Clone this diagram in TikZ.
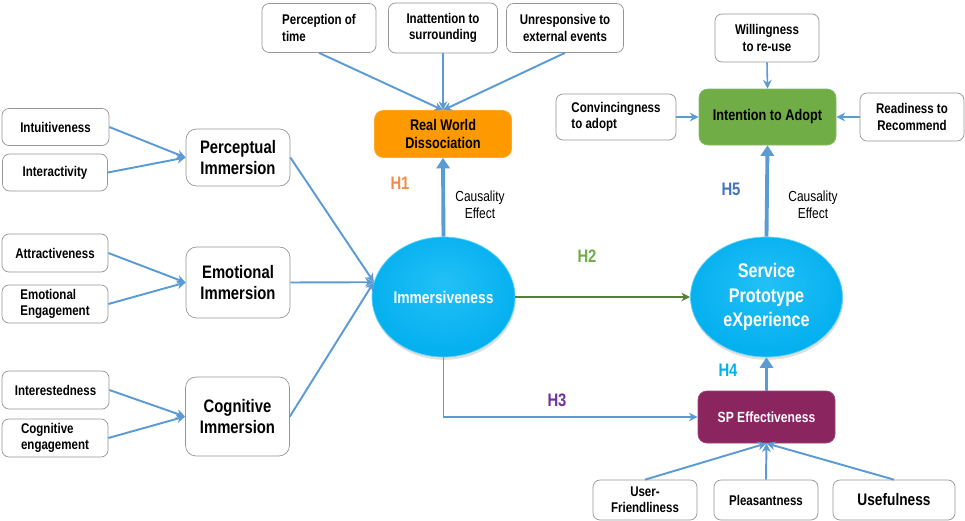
\documentclass[tikz,border=0pt]{standalone}
\usepackage{fontspec}
\setmainfont{Liberation Sans}[FakeStretch=0.82]
\usetikzlibrary{arrows.meta,shapes.geometric,shadows}

\definecolor{boxgray}{RGB}{150,150,150}
\definecolor{arrowblue}{RGB}{91,155,213}
\definecolor{rwdorange}{RGB}{255,153,0}
\definecolor{adoptgreen}{RGB}{112,173,71}
\definecolor{speffpurple}{RGB}{139,37,96}
\definecolor{h2arrow}{RGB}{84,130,53}
\definecolor{h1col}{RGB}{240,140,70}
\definecolor{h2col}{RGB}{112,173,71}
\definecolor{h3col}{RGB}{112,48,160}
\definecolor{h4col}{RGB}{0,176,240}
\definecolor{h5col}{RGB}{68,114,196}
\definecolor{ballin}{RGB}{35,192,246}
\definecolor{ballmid}{RGB}{0,174,238}
\definecolor{ballout}{RGB}{0,128,192}
\pgfdeclareradialshading{cyanball}{\pgfpoint{0bp}{6bp}}{color(0bp)=(ballin); color(30bp)=(ballmid); color(42bp)=(ballmid); color(50bp)=(ballout)}

\begin{document}
\begin{tikzpicture}[font=\bfseries\fontsize{8}{9.2}\selectfont,
  leaf/.style={draw=boxgray,rounded corners=4pt,fill=white,minimum width=#1,minimum height=0.76cm,inner sep=2pt,align=center},
  dim box/.style={draw=boxgray,rounded corners=6pt,fill=white,minimum width=2.08cm,align=center,font=\bfseries\fontsize{10.3}{11.5}\selectfont},
  core box/.style={draw=#1!85!white,fill=#1,rounded corners=5pt,minimum width=2.74cm,align=center,font=\bfseries\fontsize{8.8}{10.2}\selectfont},
  blob/.style={ellipse,draw=ballin!70!white,line width=0.4pt,shade,shading=cyanball,inner sep=0pt,text=white,align=center,
    drop shadow={opacity=0.25,shadow xshift=0.4pt,shadow yshift=-1.6pt}},
  link/.style={draw=arrowblue,line width=1.1pt,-{Stealth[length=5pt,width=5pt]}},
  strong link/.style={draw=arrowblue,line width=2.2pt,-{Triangle[length=6pt,width=7.5pt]}},
  hyp/.style={font=\bfseries\fontsize{10.3}{12}\selectfont},
  note/.style={font=\mdseries\fontsize{8.3}{9.8}\selectfont,align=center}]

\useasboundingbox (0,0) rectangle (19.3,-10.42);

% Real world dissociation
\node[leaf=2.28cm,minimum height=0.98cm,align=left] (ptime) at (6.38,-0.56) {Perception of\\time};
\node[leaf=2.18cm,minimum height=1cm] (inatt) at (8.86,-0.56) {Inattention to\\surrounding};
\node[leaf=2.34cm,minimum height=0.98cm] (unresp) at (11.30,-0.56) {Unresponsive to\\external events};
\node[core box=rwdorange,minimum height=0.94cm] (rwd) at (8.86,-2.68) {Real World\\Dissociation};

% immersion dimensions
\node[leaf=2.14cm,minimum height=0.74cm] (intu) at (1.11,-2.54) {Intuitiveness};
\node[leaf=2.10cm,minimum height=0.74cm] (inter) at (1.10,-3.45) {Interactivity};
\node[dim box,minimum height=1.14cm] (perc) at (4.76,-3.15) {Perceptual\\Immersion};

\node[leaf=2.12cm] (attr) at (1.10,-5.06) {Attractiveness};
\node[leaf=2.12cm,align=left] (emoeng) at (1.10,-6.08) {Emotional\\Engagement};
\node[dim box,minimum height=1.42cm] (emo) at (4.76,-5.65) {Emotional\\Immersion};

\node[leaf=2.14cm] (intr) at (1.11,-7.80) {Interestedness};
\node[leaf=2.12cm,align=left] (cogeng) at (1.10,-8.76) {Cognitive\\engagement};
\node[dim box,minimum height=1.58cm] (cog) at (4.75,-8.33) {Cognitive\\Immersion};

% the two constructs
\node[blob,minimum width=2.86cm,minimum height=2.4cm,font=\bfseries\fontsize{9.6}{11}\selectfont] (imm) at (8.87,-5.94) {Immersiveness};
\node[blob,minimum width=3.04cm,minimum height=2.4cm,font=\bfseries\fontsize{11.2}{13.9}\selectfont] (spx) at (15.33,-5.94) {Service\\Prototype\\eXperience};

% SP effectiveness
\node[core box=speffpurple,text=white,minimum height=1.04cm,font=\bfseries\fontsize{8.4}{10}\selectfont] (speff) at (15.33,-8.34) {SP Effectiveness};
\node[leaf=2.08cm,minimum height=0.8cm] (user) at (12.90,-10.0) {User-\\Friendliness};
\node[leaf=2.08cm,minimum height=0.8cm] (pleas) at (15.32,-10.0) {Pleasantness};
\node[leaf=2.44cm,minimum height=0.8cm,font=\bfseries\fontsize{9.5}{11}\selectfont] (usef) at (17.88,-10.0) {Usefulness};

% intention to adopt
\node[core box=adoptgreen,minimum height=1.12cm] (adopt) at (15.35,-2.34) {Intention to Adopt};
\node[leaf=2.08cm,minimum height=0.96cm] (reuse) at (15.34,-0.76) {Willingness\\to re-use};
\node[leaf=2.40cm,minimum height=0.92cm,align=left] (conv) at (12.32,-2.34) {Convincingness\\to adopt};
\node[leaf=2.08cm,minimum height=0.96cm] (ready) at (18.24,-2.34) {Readiness to\\Recommend};

% hypotheses
\node[hyp,text=h1col] (h1) at (8.0,-3.66) {H1};
\node[note] (cause1) at (9.6,-4.1) {Causality\\Effect};
\node[hyp,text=h2col] (h2) at (11.74,-5.12) {H2};
\node[hyp,text=h3col] (h3) at (11.14,-8.0) {H3};
\node[hyp,text=h4col] (h4) at (14.56,-7.4) {H4};
\node[hyp,text=h5col] (h5) at (14.62,-3.78) {H5};
\node[note] (cause5) at (16.26,-4.1) {Causality\\Effect};

\foreach \src in {ptime,inatt,unresp} \draw[link] (\src.south) -- (rwd.north);
\foreach \src in {intu,inter} \draw[link] (\src.east) -- (perc.west);
\foreach \src in {attr,emoeng} \draw[link] (\src.east) -- (emo.west);
\foreach \src in {intr,cogeng} \draw[link] (\src.east) -- (cog.west);
\foreach \src in {perc,emo,cog} \draw[link] (\src.east) -- (imm.168);

\draw[strong link] (imm.north) -- (rwd.south);
\draw[draw=h2arrow,line width=1.1pt,-{Stealth[length=5pt,width=5pt]}] (imm.east) -- (spx.west);
\draw[link] (imm.south) |- (speff.west);
\draw[strong link] (speff.north) -- (spx.south);
\foreach \src in {user,pleas,usef} \draw[link] (\src.north) -- (speff.south);

\draw[strong link] (spx.north) -- (adopt.south);
\draw[link,line width=0.9pt] (reuse.south) -- (adopt.north);
\draw[link] (conv.east) -- (adopt.west);
\draw[link] (ready.west) -- (adopt.east);

\end{tikzpicture}
\end{document}
